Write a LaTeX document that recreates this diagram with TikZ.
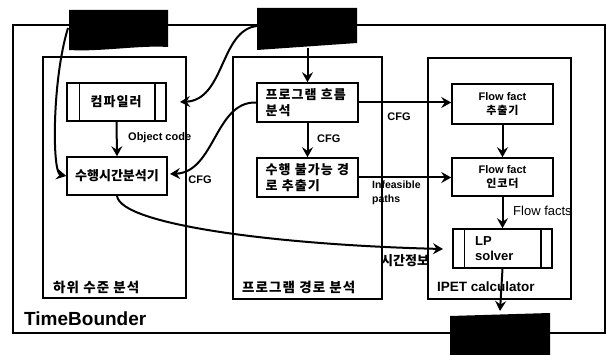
\documentclass[tikz,border=0pt]{standalone}
\usepackage{fontspec}
\setmainfont{Liberation Sans}
\newfontfamily\kr{Noto Sans CJK KR}
\newfontfamily\krs{Noto Sans CJK KR}[LetterSpace=8]
\usetikzlibrary{arrows.meta}
\begin{document}
\begin{tikzpicture}[x=1pt,y=-1pt,
  frame/.style={draw, line width=1.5pt},
  box/.style={draw, line width=1.5pt, fill=white, minimum width=100pt, minimum height=38pt, inner sep=0pt},
  arr/.style={line width=2pt, -{Stealth[length=10pt,width=11pt,inset=3.5pt]}},
  lbl/.style={font=\bfseries\fontsize{11}{14}\selectfont, inner sep=0pt},
  krl/.style={font=\kr\bfseries\fontsize{13}{16}\selectfont, inner sep=0pt},
  krw/.style={font=\krs\bfseries\fontsize{13}{16}\selectfont, inner sep=0pt},
  krp/.style={font=\krs\bfseries\fontsize{13.5}{16}\selectfont, inner sep=0pt, anchor=west},
]
\useasboundingbox (0,0) rectangle (607,355);
% outer frame and panels
\draw[frame] (13,25) rectangle (605,333);
\draw[frame] (43,57) rectangle (186,298);
\draw[frame] (233,57) rectangle (382,299);
\draw[frame] (428,58) rectangle (571,299);
% black boxes
\fill (69,10) -- (168,10) -- (168,47) .. controls (140,45) and (100,52) .. (69,50) -- cycle;
\node[inner sep=0pt, minimum width=99pt, minimum height=38pt] (tl) at (118.5,29) {};
\fill (257,8) -- (357,8) -- (357,43) -- (257,50) -- cycle;
\node[inner sep=0pt, minimum width=100pt, minimum height=40pt] (tm) at (307,28) {};
\fill (450,316) -- (550,313) -- (550,355) -- (450,355) -- cycle;
\node[inner sep=0pt, minimum width=100pt, minimum height=40pt] (bm) at (500,335) {};
% boxes
\node[box, minimum width=99pt] (comp) at (116.5,102) {};
\node[krw] at (116,102) {컴파일러};
\draw[line width=1.5pt] ([xshift=13pt]comp.north west) -- ([xshift=13pt]comp.south west)
  ([xshift=-12pt]comp.north east) -- ([xshift=-12pt]comp.south east);
\node[box, krl, minimum width=100pt, minimum height=38pt] (wcet) at (117,176) {수행시간분석기};
\node[box, krw, minimum width=101pt, minimum height=39pt, align=left, text width=84pt] (cfa) at (307.5,102.5) {프로그램 흐름\\분석};
\node[box, krw, minimum width=101pt, minimum height=39pt, align=left, text width=84pt] (ipe) at (307.5,177.5) {수행 불가능 경\\로 추출기};
\node[box, lbl, minimum width=101pt, minimum height=40pt, align=center] (ffe) at (502.5,104) {Flow fact\\{\krs 추출기}};
\node[box, lbl, minimum width=101pt, minimum height=38pt, align=center] (ffi) at (502.5,177) {Flow fact\\{\krs 인코더}};
\node[box, minimum width=99pt, minimum height=39pt] (lp) at (502.5,248.5) {};
\node[lbl, font=\bfseries\fontsize{13}{15}\selectfont, align=left, anchor=west] at (475,248.5) {LP\\solver};
\draw[line width=1.5pt] ([xshift=12pt]lp.north west) -- ([xshift=12pt]lp.south west)
  ([xshift=-12pt]lp.north east) -- ([xshift=-12pt]lp.south east);
% coordinates for free ends
\coordinate (tlout) at (68,28);
\coordinate (tmout) at (257,26);
\coordinate (compin) at (180,102);
\coordinate (wcetin) at (170,174);
\coordinate (lpin) at (443,249);
\coordinate (bmin) at (500,311);
% arrows
\draw[arr] (tlout) .. controls (52,80) and (52,173) .. (wcet.west);
\draw[arr] (tmout) .. controls (220,30) and (225,100) .. (compin);
\draw[arr] (cfa.west) .. controls (215,101) and (215,172) .. (wcetin);
\draw[arr] (tm.south -| cfa.north) -- (cfa.north);
\draw[arr] (comp.south) -- (wcet.north);
\draw[arr] (cfa.south) -- (ipe.north);
\draw[arr] (cfa.east) -- (ffe.west |- cfa.east);
\draw[arr] (ipe.east) -- (ffi.west |- ipe.east);
\draw[arr] (ffe.south) -- (ffi.north);
\draw[arr] (ffi.south) -- (lp.north);
\draw[arr] (lp.south) -- (bmin);
\draw[arr] (wcet.south) .. controls (120,225) and (280,245) .. (lpin);
% labels
\node[lbl, anchor=west] (oc) at (128,138) {Object code};
\node[lbl] (cfg1) at (200,180) {CFG};
\node[lbl, anchor=west] (cfg2) at (317,139) {CFG};
\node[lbl] (cfg3) at (399,117) {CFG};
\node[lbl, anchor=west, align=left, font=\bfseries\fontsize{10.5}{14}\selectfont] (inf) at (372,193) {Infeasible\\paths};
\node[lbl, anchor=west, font=\fontsize{13}{15}\selectfont] (ffs) at (513,211) {Flow facts};
\node[krl, anchor=west] (ti) at (381,261) {시간정보};
\node[krp] (p1) at (53,287) {하위 수준 분석};
\node[krp] (p2) at (242,287) {프로그램 경로 분석};
\node[lbl, anchor=west, font=\bfseries\fontsize{13.5}{15}\selectfont] (p3) at (437,287) {IPET calculator};
\node[lbl, anchor=west, font=\bfseries\fontsize{19}{21}\selectfont] (tb) at (24,319) {TimeBounder};
\end{tikzpicture}
\end{document}
